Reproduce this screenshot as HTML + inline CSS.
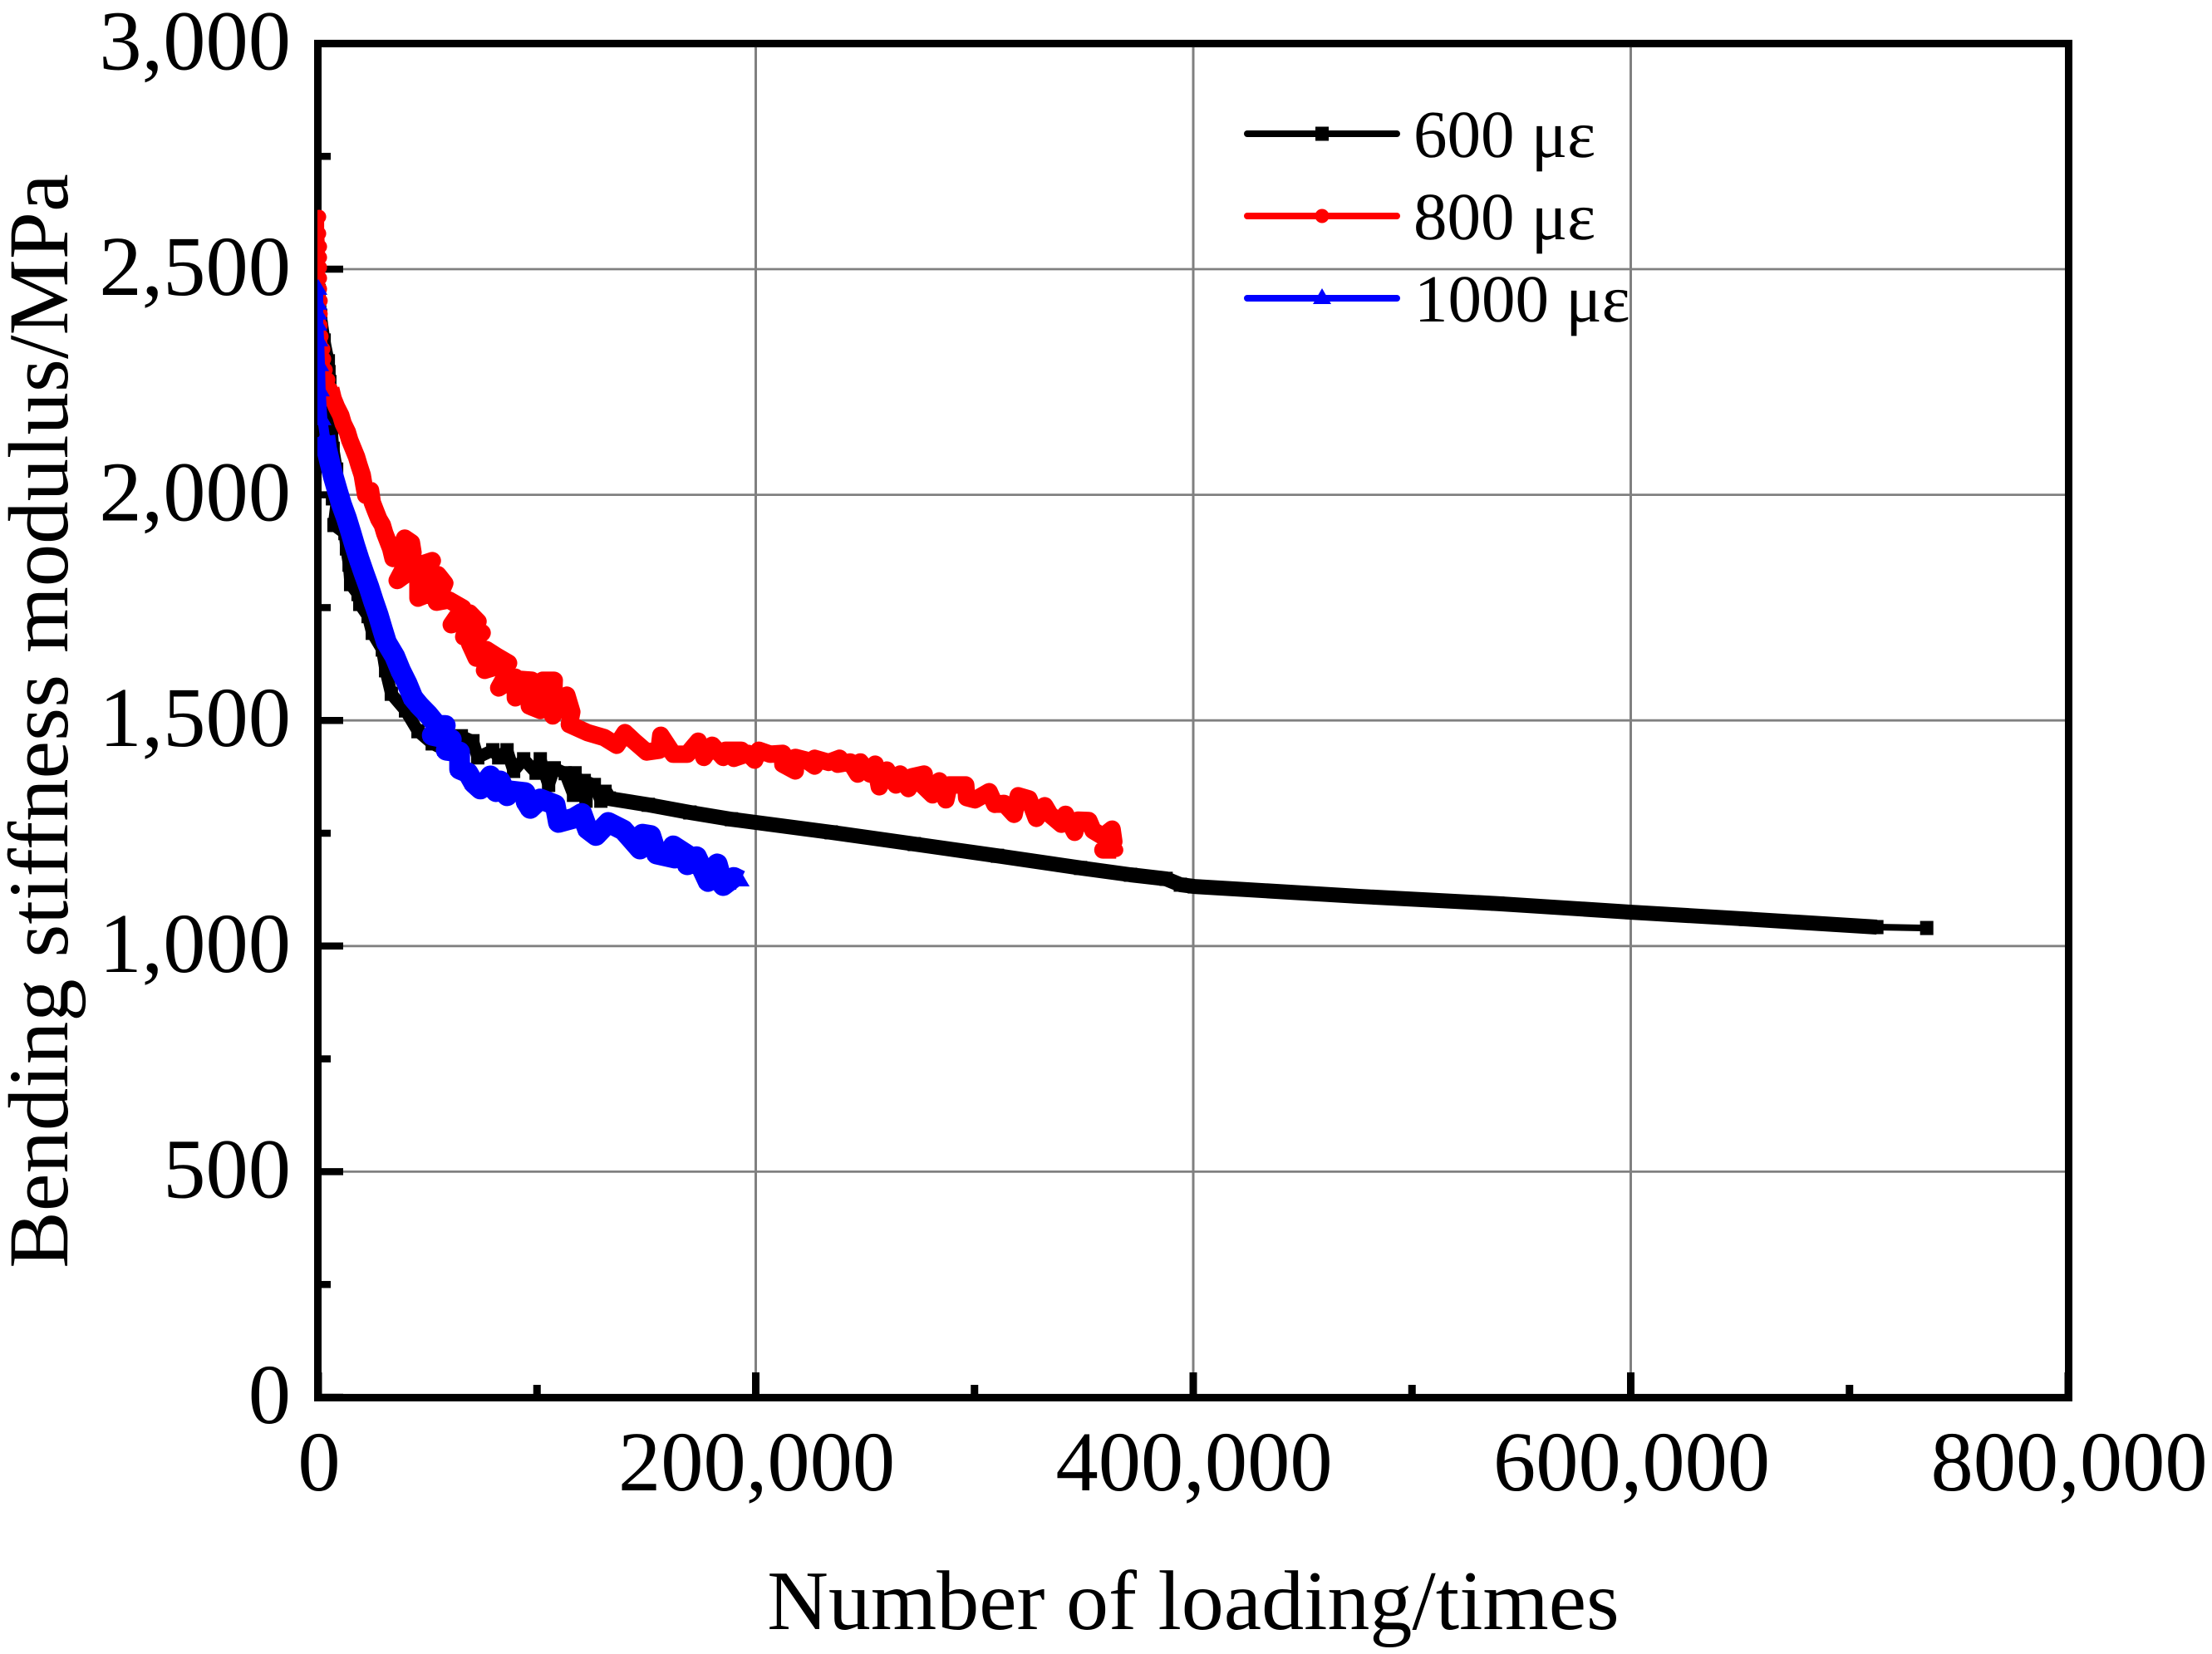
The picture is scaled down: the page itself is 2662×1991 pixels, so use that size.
<!DOCTYPE html>
<html lang="en">
<head>
<meta charset="utf-8">
<title>Bending stiffness modulus vs number of loading</title>
<style>
html,body{margin:0;padding:0;background:#fff;}
svg{display:block;}
text{font-family:"Liberation Serif",serif;fill:#000;text-rendering:geometricPrecision;}
</style>
</head>
<body>
<svg id="chart" xmlns="http://www.w3.org/2000/svg" width="2662" height="1991" viewBox="0 0 2662 1991">
<defs><clipPath id="plot-clip"><rect x="382" y="52" width="2108" height="1631"/></clipPath></defs>
<rect x="0" y="0" width="2662" height="1991" fill="#fff"/>
<g id="grid"></g>
<g id="axes"></g>
<g id="series" clip-path="url(#plot-clip)"></g>
<g id="legend"></g>
<text x="1436" y="1961" font-size="102" text-anchor="middle">Number of loading/times</text>
<text transform="translate(81,868) rotate(-90)" x="0" y="0" font-size="102.8" text-anchor="middle">Bending stiffness modulus/MPa</text>
</svg>
<script>
const xMajorTicks = [0, 200000, 400000, 600000, 800000];
const xMajorLabels = ["0", "200,000", "400,000", "600,000", "800,000"];
const xMinorTicks = [100000, 300000, 500000, 700000];
const yMajorTicks = [0, 500, 1000, 1500, 2000, 2500, 3000];
const yMajorLabels = ["0", "500", "1,000", "1,500", "2,000", "2,500", "3,000"];
const yMinorTicks = [250, 750, 1250, 1750, 2250, 2750];

const seriesNames = ["600 με", "800 με", "1000 με"];

const cycles600 = [400,1100,2700,4600,4900,5300,5300,5700,6100,6800,8400,6500,9100,7200,12200,12900,14100,14800,18200,19000,22800,24700,29300,30800,33400,39900,45600,52100,59700,65400,70700,72900,79800,82500,86300,89300,93900,99600,101500,105300,107900,112900,116700,117400,122400,121600,126200,129200,131100,133000,150900,169900,188900,234500,272500,310500,348500,371300,387600,394100,400500,475800,539200,600400,652500,712500,735300];
const modulus600 = [2452,2397,2342,2296,2272,2250,2213,2176,2139,2102,2056,1992,2010,1933,1915,1881,1845,1802,1780,1758,1731,1694,1657,1611,1559,1522,1476,1449,1430,1465,1454,1418,1434,1418,1434,1388,1414,1384,1414,1357,1394,1383,1335,1383,1322,1366,1357,1322,1342,1327,1313,1296,1281,1252,1226,1200,1173,1158,1149,1136,1132,1110,1094,1075,1060,1042,1040];

const cycles800 = [400,400,800,800,800,800,800,1100,1100,1100,1500,2300,2700,3400,4600,5700,6800,8400,10300,11400,13300,14400,16000,17500,18600,20100,20900,21700,23900,24700,26200,27700,29300,30400,33100,34200,36900,39500,42600,43300,39900,36100,40700,46400,52100,45600,45600,50200,54700,57800,54000,59700,66100,60800,64200,73000,69200,66500,71800,74900,69200,72200,76800,81700,87000,76000,82500,86300,82500,90100,90100,92700,97700,96500,101500,102600,107900,107200,113600,115900,114800,123100,130700,136400,140200,144400,150100,155800,156600,162300,168700,173700,176300,180100,185100,186200,190800,193400,190000,196500,199500,201400,206700,212400,212400,218100,218100,223100,226900,226900,233300,238300,237500,243200,246600,247800,252300,254600,256500,259900,264100,266000,269800,271300,277000,275500,280800,283900,286900,288400,293400,296000,296400,300200,306700,309300,313500,318100,320000,324900,328300,332100,334400,339700,341600,345800,347300,352300,354200,358700,362900,363700,358700,364800];
const modulus800 = [2616,2579,2550,2526,2504,2480,2456,2430,2401,2375,2351,2323,2301,2277,2255,2235,2213,2194,2176,2158,2139,2121,2102,2084,2066,2044,2021,1999,2010,1983,1964,1946,1933,1915,1881,1859,1874,1904,1894,1872,1845,1810,1826,1845,1854,1808,1771,1780,1823,1804,1762,1767,1749,1712,1731,1719,1738,1685,1707,1694,1670,1638,1657,1642,1627,1611,1629,1605,1572,1596,1550,1591,1589,1532,1522,1589,1589,1510,1556,1519,1491,1473,1462,1445,1473,1454,1430,1434,1467,1425,1425,1454,1418,1445,1418,1434,1434,1434,1416,1427,1412,1434,1425,1427,1403,1388,1418,1412,1399,1416,1407,1416,1403,1408,1381,1408,1381,1403,1353,1390,1357,1381,1349,1375,1381,1360,1335,1366,1324,1357,1357,1357,1329,1324,1342,1314,1316,1292,1333,1326,1283,1311,1292,1270,1292,1252,1279,1278,1256,1243,1259,1232,1213,1213];

const cycles1000 = [0,0,0,0,400,800,1100,1900,3000,3800,5300,6800,8700,10600,12900,14800,16700,18600,20900,23200,25100,27400,29300,31200,35000,37600,40700,43300,46400,50200,54300,58100,52100,60800,58500,64600,64600,68400,71100,74100,78700,81300,83200,86300,87400,94600,95000,96900,101500,108300,109800,116700,120500,123100,126900,132600,139500,147100,148200,152000,154700,163000,162300,168700,168700,172900,178200,182400,185100,190000,193000];
const modulus1000 = [2456,2423,2401,2377,2342,2287,2231,2167,2130,2102,2071,2042,2010,1979,1948,1918,1887,1858,1826,1795,1766,1734,1703,1673,1642,1611,1581,1550,1532,1513,1489,1489,1467,1458,1434,1430,1392,1384,1361,1348,1377,1342,1366,1333,1344,1340,1320,1305,1326,1313,1274,1283,1294,1259,1245,1274,1257,1215,1248,1245,1204,1195,1222,1202,1180,1198,1143,1182,1134,1152,1145];

const NS = "http://www.w3.org/2000/svg";
const xScale = function (v) { return 383 + (v / 800000) * (2489 - 383); };
const yScale = function (v) { return 1682 - (v / 3000) * (1682 - 52.4); };

function make(tag, parent) {
  const el = document.createElementNS(NS, tag);
  parent.appendChild(el);
  return el;
}
function setAll(el, props) {
  Object.keys(props).forEach(function (k) { el.setAttribute(k, props[k]); });
}

const gridLayer = document.getElementById("grid");
const axesLayer = document.getElementById("axes");
const seriesLayer = document.getElementById("series");
const legendLayer = document.getElementById("legend");

/* gridlines */
yMajorTicks.forEach(function (t) {
  if (t === 0 || t === 3000) return;
  const el = make("line", gridLayer);
  
  
  setAll(el, {x1: 387, x2: 2485, y1: yScale(t), y2: yScale(t), stroke: "#808080", "stroke-width": 2.8});
});
xMajorTicks.forEach(function (t) {
  if (t === 0 || t === 800000) return;
  const el = make("line", gridLayer);
  
  
  setAll(el, {x1: xScale(t), x2: xScale(t), y1: 57, y2: 1678, stroke: "#808080", "stroke-width": 3});
});

/* frame */
const frame = make("rect", axesLayer);


setAll(frame, {x: 382.5, y: 52.4, width: 2107, height: 1630, fill: "none", stroke: "#000", "stroke-width": 9});

/* ticks and labels */
yMajorTicks.forEach(function (t, i) {
  const tick = make("line", axesLayer);
  
  
  setAll(tick, {x1: 382, x2: 413, y1: yScale(t), y2: yScale(t), stroke: "#000", "stroke-width": 8.5});
  const label = make("text", axesLayer);
  
  
  setAll(label, {x: 350, y: yScale(t) + 31, "font-size": 102.5, "text-anchor": "end"});
  label.textContent = yMajorLabels[i];
});
yMinorTicks.forEach(function (t) {
  const tick = make("line", axesLayer);
  
  
  setAll(tick, {x1: 382, x2: 398, y1: yScale(t), y2: yScale(t), stroke: "#000", "stroke-width": 8.5});
});
xMajorTicks.forEach(function (t, i) {
  const tick = make("line", axesLayer);
  
  
  setAll(tick, {x1: xScale(t), x2: xScale(t), y1: 1652, y2: 1682, stroke: "#000", "stroke-width": 9});
  const label = make("text", axesLayer);
  
  
  setAll(label, {x: xScale(t) + 1, y: 1794, "font-size": 102.5, "text-anchor": "middle"});
  label.textContent = xMajorLabels[i];
});
xMinorTicks.forEach(function (t) {
  const tick = make("line", axesLayer);
  
  
  setAll(tick, {x1: xScale(t), x2: xScale(t), y1: 1667, y2: 1682, stroke: "#000", "stroke-width": 9});
});

/* marker shapes */
function drawMarker(parent, kind, cx, cy, color) {
  let m;
  if (kind === "square") {
    m = make("rect", parent);
    setAll(m, {x: cx - 8, y: cy - 8.5, width: 16, height: 17, fill: color});
  } else if (kind === "circle") {
    m = make("circle", parent);
    setAll(m, {cx: cx, cy: cy, r: 8.5, fill: color});
  } else {
    m = make("polygon", parent);
    setAll(m, {points: (cx - 11) + "," + (cy + 7) + " " + cx + "," + (cy - 12) + " " + (cx + 11) + "," + (cy + 7), fill: color});
  }
  return m;
}

function pathFrom(xs, ys, start, end) {
  let d = "";
  for (let i = start; i < end; i++) {
    d += (i === start ? "M" : "L") + xScale(xs[i]).toFixed(1) + " " + yScale(ys[i]).toFixed(1);
  }
  return d;
}

function drawBand(parent, name, xs, ys, start, end, color, width) {
  const p = make("path", parent);
  
  
  setAll(p, {d: pathFrom(xs, ys, start, end), fill: "none", stroke: color, "stroke-width": width, "stroke-linejoin": "round"});
  return p;
}

/* 600 series: scattered early part, dense tail band, one sparse final segment */
const g600 = make("g", seriesLayer);


const n600 = cycles600.length;
drawBand(g600, "line-600-early", cycles600, modulus600, 0, 50, "#000", 15);
drawBand(g600, "line-600-dense", cycles600, modulus600, 48, n600 - 1, "#000", 18);
drawBand(g600, "line-600-tail", cycles600, modulus600, n600 - 2, n600, "#000", 8);
cycles600.forEach(function (v, i) {
  const m = drawMarker(g600, "square", xScale(v), yScale(modulus600[i]), "#000");
  
  
});

/* 800 series */
const g800 = make("g", seriesLayer);


const n800 = cycles800.length;
drawBand(g800, "line-800-start", cycles800, modulus800, 0, 17, "#f00", 12);
drawBand(g800, "line-800-dense", cycles800, modulus800, 15, n800, "#f00", 21);
cycles800.forEach(function (v, i) {
  const m = drawMarker(g800, "circle", xScale(v), yScale(modulus800[i]), "#f00");
  
  
});

/* 1000 series */
const g1000 = make("g", seriesLayer);


const n1000 = cycles1000.length;
drawBand(g1000, "line-1000-start", cycles1000, modulus1000, 0, 10, "#00f", 12);
drawBand(g1000, "line-1000-dense", cycles1000, modulus1000, 8, n1000, "#00f", 25);
cycles1000.forEach(function (v, i) {
  const m = drawMarker(g1000, "triangle", xScale(v), yScale(modulus1000[i]), "#00f");
  
  
});

/* legend */
const legendKinds = ["square", "circle", "triangle"];
const legendColors = ["#000", "#f00", "#00f"];
const legendLineY = [161, 260, 359];
const legendTextX = [1701, 1701, 1702];
seriesNames.forEach(function (name, i) {
  const g = make("g", legendLayer);
  
  
  const ln = make("line", g);
  
  
  setAll(ln, {x1: 1501, x2: 1681, y1: legendLineY[i], y2: legendLineY[i], stroke: legendColors[i], "stroke-width": 8, "stroke-linecap": "round"});
  const mk = drawMarker(g, legendKinds[i], 1591, legendLineY[i], legendColors[i]);
  
  
  const t = make("text", g);
  
  
  setAll(t, {x: legendTextX[i], y: legendLineY[i] + 28, "font-size": 81});
  t.textContent = name;
});
</script>
</body>
</html>
